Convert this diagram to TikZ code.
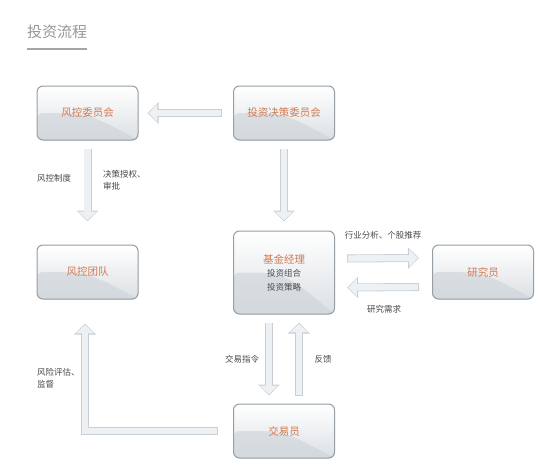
\documentclass[tikz,border=0pt]{standalone}
\usepackage{fontspec}
\newfontfamily\cjk{Noto Sans CJK SC}
\usetikzlibrary{arrows.meta,shadows,calc}
\definecolor{rim}{RGB}{150,158,166}
\definecolor{rust}{RGB}{210,122,82}
\definecolor{ink}{RGB}{72,72,76}
\definecolor{fog}{RGB}{205,211,216}
\definecolor{mist}{RGB}{200,206,211}
\definecolor{pale}{RGB}{238,241,243}
\definecolor{smoke}{RGB}{150,150,150}
\tikzset{
  card/.style={draw=rim,line width=1pt,rounded corners=6pt,
    top color=white,bottom color=fog!70,
    minimum width=101pt,minimum height=#1,align=center,
    font=\cjk\fontsize{10.5}{13.5}\selectfont,text=rust,
    drop shadow={opacity=0.15,shadow xshift=0.6pt,shadow yshift=-0.8pt},
    path picture={\fill[fog,opacity=0.6] (path picture bounding box.south west)
      -- (path picture bounding box.west) .. controls (path picture bounding box.center)
      .. (path picture bounding box.south east) -- cycle;}},
  card/.default=54pt,
  flow/.style={draw=mist,line width=8pt,-{Triangle[length=11pt,width=21pt]},
    postaction={draw=pale,line width=6.4pt,shorten <=0.8pt,shorten >=1.2pt,
      -{Triangle[length=8.6pt,width=17.6pt]}}},
  note/.style={font=\cjk\fontsize{8.5}{12.5}\selectfont,text=ink,align=left,inner sep=0pt},
}
\newcommand{\subline}[1]{{\color{ink}\fontsize{8.5}{13.5}\selectfont #1}}

\begin{document}
\begin{tikzpicture}[x=1pt,y=-1pt]
  \useasboundingbox (0,0) rectangle (554,474);
  % heading
  \node[font=\cjk\fontsize{15}{15}\selectfont,text=smoke,inner sep=0pt,anchor=west] (title) at (27,32) {投资流程};
  \draw[smoke!85,line width=2.4pt] ([yshift=-10pt]title.south west) -- ([yshift=-10pt]title.south east);
  % boxes
  \foreach \n/\t/\x/\y in {rcc/风控委员会/87.5/113, idc/投资决策委员会/284/113,
    rct/风控团队/87.5/272, res/研究员/483/272, trd/交易员/284/431}
    \node[card] (\n) at (\x,\y) {\t};
  \node[card=83pt] (fm) at (284,272.5) {基金经理\\\subline{投资组合}\\\subline{投资策略}};
  % arrows
  \draw[flow] ([xshift=-11pt]idc.west) -- ([xshift=9pt]rcc.east);
  \draw[flow] ([yshift=-8pt]rcc.south) -- ([yshift=23pt]rct.north);
  \draw[flow] ([yshift=-8pt]idc.south) -- ([yshift=9pt]fm.north);
  \draw[flow] ([shift={(12pt,14pt)}]fm.east) -- ([shift={(-13pt,14pt)}]res.west);
  \draw[flow] ([shift={(-13pt,-15pt)}]res.west) -- ([shift={(12pt,-15pt)}]fm.east);
  \draw[flow] ([shift={(-15pt,-8pt)}]fm.south) -- ([shift={(-15pt,8pt)}]trd.north);
  \draw[flow] ([shift={(15pt,8pt)}]trd.north) -- ([shift={(15pt,-8pt)}]fm.south);
  \draw[flow] ([xshift=-15pt]trd.west) -| ([shift={(-2.5pt,-24pt)}]rct.south);
  % labels
  \node[note,anchor=west] (rule) at (37,178) {风控制度};
  \node[note,anchor=north west] (auth) at (103,170) {决策授权、\\审批};
  \node[note] (advice) at (383,235) {行业分析、个股推荐};
  \node[note] (need) at (384,309) {研究需求};
  \node[note,anchor=north west] (audit) at (37,368) {风险评估、\\监督};
  \node[note] (order) at (242,359) {交易指令};
  \node[note] (back) at (323,359) {反馈};
\end{tikzpicture}
\end{document}
